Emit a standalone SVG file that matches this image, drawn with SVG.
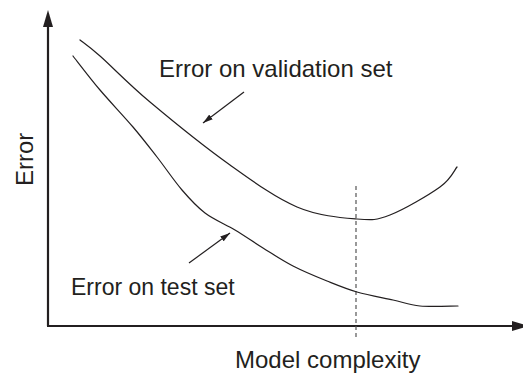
<svg xmlns="http://www.w3.org/2000/svg" width="523" height="373" viewBox="0 0 523 373">
<defs>
<style>
.lbl{font-family:"Liberation Sans",Arial,sans-serif;font-size:24px;fill:#231f20}
.curve{fill:none;stroke:#231f20;stroke-width:1.2;stroke-linecap:round}
.axis{stroke:#231f20;stroke-width:2.2;fill:none}
.ptr{stroke:#231f20;stroke-width:1.2;fill:none}
</style>
<marker id="ah" viewBox="0 0 10 6" refX="10" refY="3" markerWidth="10" markerHeight="6" markerUnits="userSpaceOnUse" orient="auto">
<path d="M0,0 L10,3 L0,6 Z" fill="#231f20"/>
</marker>
</defs>
<rect width="523" height="373" fill="#fff"/>
<g id="axes">
<line class="axis" x1="48" y1="326" x2="48" y2="25"/>
<path d="M48,10 L53,27 L43,27 Z" fill="#231f20"/>
<line class="axis" x1="47" y1="326" x2="514" y2="326"/>
<path d="M529,326 L512,331 L512,321 Z" fill="#231f20"/>
</g>
<g id="connectors">
<line x1="356" y1="186" x2="356" y2="337" stroke="#555" stroke-width="1.2" stroke-dasharray="4,3"/>
<line class="ptr" x1="244" y1="92" x2="203" y2="123" marker-end="url(#ah)"/>
<line class="ptr" x1="189" y1="263" x2="230" y2="233" marker-end="url(#ah)"/>
</g>
<g id="validation-curve">
<path class="curve" d="M80,40 C83.3,42.7 88.3,45.7 100,56 C111.7,66.3 128.3,83.8 150,102 C171.7,120.2 205.5,147.5 230,165 C254.5,182.5 275.8,198 297,207 C318.2,216 341.5,217.7 357,219 C372.5,220.3 376.2,220.3 390,215 C403.8,209.7 428.8,195 440,187 C451.2,179 454.2,170.3 457,167"/>
</g>
<g id="test-curve">
<path class="curve" d="M73,56 C77.5,61.7 90,78.2 100,90 C110,101.8 123.5,115.8 133,127 C142.5,138.2 148.8,146.5 157,157 C165.2,167.5 174,180.7 182,190 C190,199.3 196.2,206.3 205,213 C213.8,219.7 225.3,224.2 235,230 C244.7,235.8 253.3,242 263,248 C272.7,254 282.3,260.5 293,266 C303.7,271.5 316.3,276.7 327,281 C337.7,285.3 346,288.8 357,292 C368,295.2 382.5,297.7 393,300 C403.5,302.3 409.2,305 420,306 C430.8,307 451.7,306 458,306"/>
</g>
<g id="labels">
<text class="lbl" x="159" y="77">Error on validation set</text>
<text class="lbl" x="71" y="295" font-size="23" style="font-size:23px">Error on test set</text>
<text class="lbl" x="235" y="368">Model complexity</text>
<text class="lbl" transform="translate(33,186) rotate(-90)">Error</text>
</g>
</svg>
